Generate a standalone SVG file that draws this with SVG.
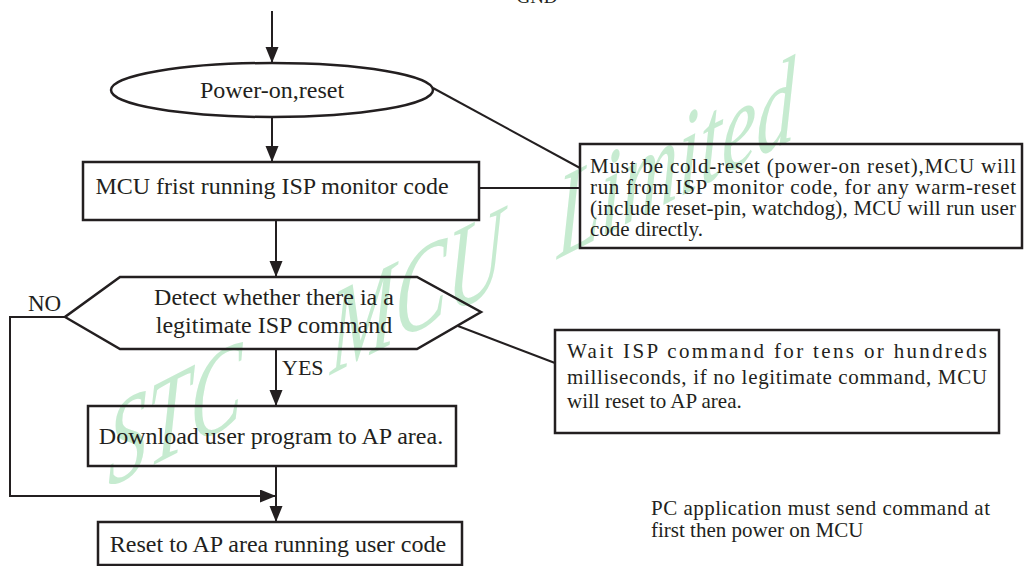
<svg xmlns="http://www.w3.org/2000/svg" width="1025" height="566" viewBox="0 0 1025 566">
<style>
.t{font-family:"Liberation Serif","Times New Roman",serif;fill:#231f20}
.shape{fill:none;stroke:#231f20;stroke-width:2.5}
.con{fill:none;stroke:#231f20;stroke-width:2}
.wm{font-family:"Liberation Serif","Times New Roman",serif;font-style:italic;fill:#c6ebd0}
</style>
<defs>
<marker id="ah" markerUnits="userSpaceOnUse" markerWidth="17" markerHeight="14" refX="16" refY="6.5" orient="auto">
<path d="M0,0 L16,6.5 L0,13 z" fill="#231f20"/>
</marker>
</defs>
<rect width="1025" height="566" fill="#ffffff"/>
<g id="watermark" transform="translate(108,488) skewY(-27) scale(1,1.55)">
<text class="wm" x="0" y="0" font-size="78">STC</text>
<text class="wm" x="222" y="0" font-size="78">MCU</text>
<text class="wm" x="449" y="0" font-size="78">Limited</text>
</g>
<text class="t" x="537" y="3" font-size="19" text-anchor="middle">GND</text>
<g id="connectors">
<line class="con" x1="272" y1="11" x2="272" y2="63" marker-end="url(#ah)"/>
<line class="con" x1="433" y1="88" x2="580" y2="168"/>
<line class="con" x1="272" y1="117" x2="272" y2="162" marker-end="url(#ah)"/>
<line class="con" x1="479" y1="188" x2="580" y2="188"/>
<line class="con" x1="276" y1="220" x2="276" y2="277" marker-end="url(#ah)"/>
<polyline class="con" points="65,317 10,317 10,496 276,496" marker-end="url(#ah)"/>
<line class="con" x1="458" y1="326" x2="555" y2="363"/>
<line class="con" x1="276" y1="349" x2="276" y2="406" marker-end="url(#ah)"/>
<line class="con" x1="276" y1="466" x2="276" y2="522" marker-end="url(#ah)"/>
<text class="t" x="28" y="311" font-size="23">NO</text>
<text class="t" x="282" y="375" font-size="22">YES</text>
</g>
<g id="start">
<ellipse class="shape" cx="272" cy="90" rx="161" ry="27"/>
<text class="t" x="272" y="98" font-size="24" text-anchor="middle">Power-on,reset</text>
</g>
<g id="isp-monitor">
<rect class="shape" x="83" y="162" width="396" height="58"/>
<text class="t" x="272" y="194" font-size="24" text-anchor="middle">MCU frist running ISP monitor code</text>
</g>
<g id="note-cold-reset">
<rect class="shape" x="580" y="144" width="442" height="104"/>
<text class="t" font-size="21">
<tspan x="590" y="173" textLength="426" lengthAdjust="spacing">Must be cold-reset (power-on reset),MCU will</tspan>
<tspan x="590" y="194" textLength="426" lengthAdjust="spacing">run from ISP monitor code, for any warm-reset</tspan>
<tspan x="590" y="215" textLength="426" lengthAdjust="spacing">(include reset-pin, watchdog), MCU will run user</tspan>
<tspan x="590" y="236">code directly.</tspan>
</text>
</g>
<g id="detect">
<polygon class="shape" points="120,277 417,277 481,312 417,349 120,349 65,317"/>
<text class="t" x="274" y="305" font-size="24" text-anchor="middle">Detect whether there ia a</text>
<text class="t" x="274" y="333" font-size="24" text-anchor="middle">legitimate ISP command</text>
</g>
<g id="note-wait">
<rect class="shape" x="555" y="330" width="444" height="103"/>
<text class="t" font-size="21">
<tspan x="567" y="358" textLength="420" lengthAdjust="spacing">Wait ISP command for tens or hundreds</tspan>
<tspan x="567" y="384" textLength="420" lengthAdjust="spacing">milliseconds, if no legitimate command, MCU</tspan>
<tspan x="567" y="408">will reset to AP area.</tspan>
</text>
</g>
<g id="download">
<rect class="shape" x="88" y="406" width="368" height="60"/>
<text class="t" x="271" y="444" font-size="24" text-anchor="middle">Download user program to AP area.</text>
</g>
<g id="reset-ap">
<rect class="shape" x="98" y="522" width="364" height="43"/>
<text class="t" x="278" y="552" font-size="24" text-anchor="middle">Reset to AP area running user code</text>
</g>
<g id="note-pc">
<text class="t" font-size="21">
<tspan x="651" y="515" textLength="339" lengthAdjust="spacing">PC application must send command at</tspan>
<tspan x="651" y="537">first then power on MCU</tspan>
</text>
</g>
</svg>
